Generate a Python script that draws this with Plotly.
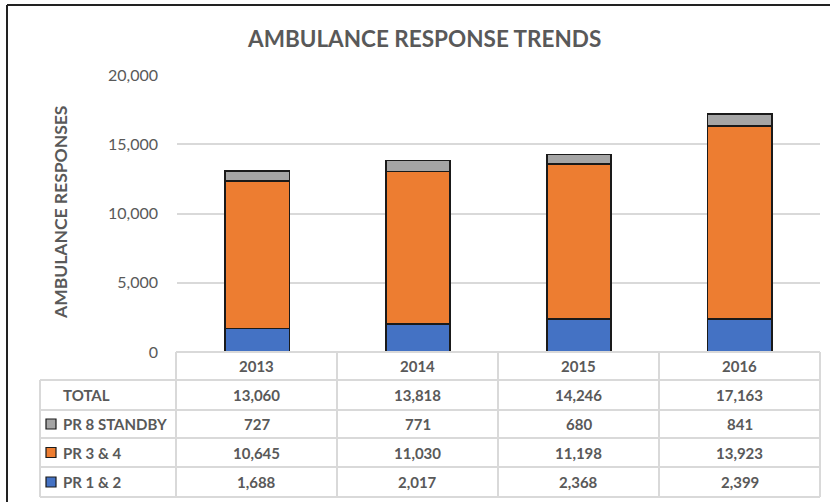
import plotly.graph_objects as go

years = ["2013", "2014", "2015", "2016"]
pr12 = [1688, 2017, 2368, 2399]
pr34 = [10645, 11030, 11198, 13923]
pr8 = [727, 771, 680, 841]
totals = [13060, 13818, 14246, 17163]
series_names = ["PR 1 & 2", "PR 3 & 4", "PR 8 STANDBY"]
series_colors = ["#4472C4", "#ED7D31", "#A5A5A5"]
y_ticks = [0, 5000, 10000, 15000, 20000]

W, H = 830, 502
def px(x):
    return x / W
def py(y):
    return 1 - y / H

TXT = "#595959"
FONT = "Lato"
GRID = "#D9D9D9"

fig = go.Figure()
for name, vals, col in zip(series_names, [pr12, pr34, pr8], series_colors):
    fig.add_trace(go.Bar(x=years, y=vals, name=name, width=0.4,
                         marker=dict(color=col, line=dict(color="#1a1a1a", width=1.6)),
                         showlegend=False))

plot_l, plot_r, plot_t, plot_b = 177, 820, 75, 352
fig.update_layout(
    width=W, height=H, barmode="stack", autosize=False,
    margin=dict(l=0, r=0, t=0, b=0, pad=0, autoexpand=False),
    paper_bgcolor="white", plot_bgcolor="white",
    font=dict(family=FONT, color=TXT),
    xaxis=dict(domain=[px(plot_l), px(plot_r)], showticklabels=False, automargin=False,
               showgrid=False, zeroline=False, showline=False, type="category"),
    yaxis=dict(domain=[py(plot_b), py(plot_t)], range=[0, 20000], automargin=False,
               tickvals=y_ticks, tickformat=",d", showgrid=True,
               gridcolor=GRID, gridwidth=1.5, zeroline=False, showline=False,
               ticklabelstandoff=18,
               tickfont=dict(family=FONT, size=16, color=TXT)),
)

def note(text, x, y, size=15, xanchor="center", angle=0):
    fig.add_annotation(text=text, x=px(x), y=py(y), xref="paper", yref="paper",
                       xanchor=xanchor, yanchor="middle", showarrow=False,
                       textangle=angle, font=dict(family=FONT, size=size, color=TXT))

note("<b>AMBULANCE RESPONSE TRENDS</b>", 424, 38, size=22.5)
note("<b>AMBULANCE RESPONSES</b>", 60, 213, size=17.5, angle=-90)

shapes = []
shapes.append(dict(type="line", xref="paper", yref="paper", x0=px(7), x1=px(7),
                   y0=py(5), y1=0, line=dict(color="#222222", width=2)))
shapes.append(dict(type="line", xref="paper", yref="paper", x0=px(7), x1=1,
                   y0=py(5), y1=py(5), line=dict(color="#222222", width=2)))

col_edges = [176, 337, 498, 659, 820]
row_edges = [352, 380, 410, 438, 467, 497]
tl = 40
tline = dict(color=GRID, width=2)
shapes.append(dict(type="line", xref="paper", yref="paper", x0=px(176), x1=px(820),
                   y0=py(352), y1=py(352), line=tline))
for ry in row_edges[1:]:
    shapes.append(dict(type="line", xref="paper", yref="paper", x0=px(tl), x1=px(820),
                       y0=py(ry), y1=py(ry), line=tline))
for cx in col_edges:
    shapes.append(dict(type="line", xref="paper", yref="paper", x0=px(cx), x1=px(cx),
                       y0=py(352), y1=py(497), line=tline))
shapes.append(dict(type="line", xref="paper", yref="paper", x0=px(tl), x1=px(tl),
                   y0=py(380), y1=py(497), line=tline))

row_centers = [(row_edges[i] + row_edges[i + 1]) / 2 for i in range(len(row_edges) - 1)]

for i, yr in enumerate(years):
    cx = (col_edges[i] + col_edges[i + 1]) / 2
    note(f"<b>{yr}</b>", cx, row_centers[0])

rows = [("TOTAL", totals, None),
        ("PR 8 STANDBY", pr8, series_colors[2]),
        ("PR 3 & 4", pr34, series_colors[1]),
        ("PR 1 & 2", pr12, series_colors[0])]
for r, (label, vals, col) in enumerate(rows):
    yc = row_centers[r + 1]
    note(f"<b>{label}</b>", 61, yc, xanchor="left")
    if col:
        shapes.append(dict(type="rect", xref="paper", yref="paper",
                           x0=px(46), x1=px(56), y0=py(yc + 5), y1=py(yc - 5),
                           fillcolor=col, line=dict(color="#1a1a1a", width=1.2)))
    for i, v in enumerate(vals):
        cx = (col_edges[i] + col_edges[i + 1]) / 2
        note(f"<b>{v:,}</b>", cx, yc)

fig.update_layout(shapes=shapes)
fig.write_html("out.html")
